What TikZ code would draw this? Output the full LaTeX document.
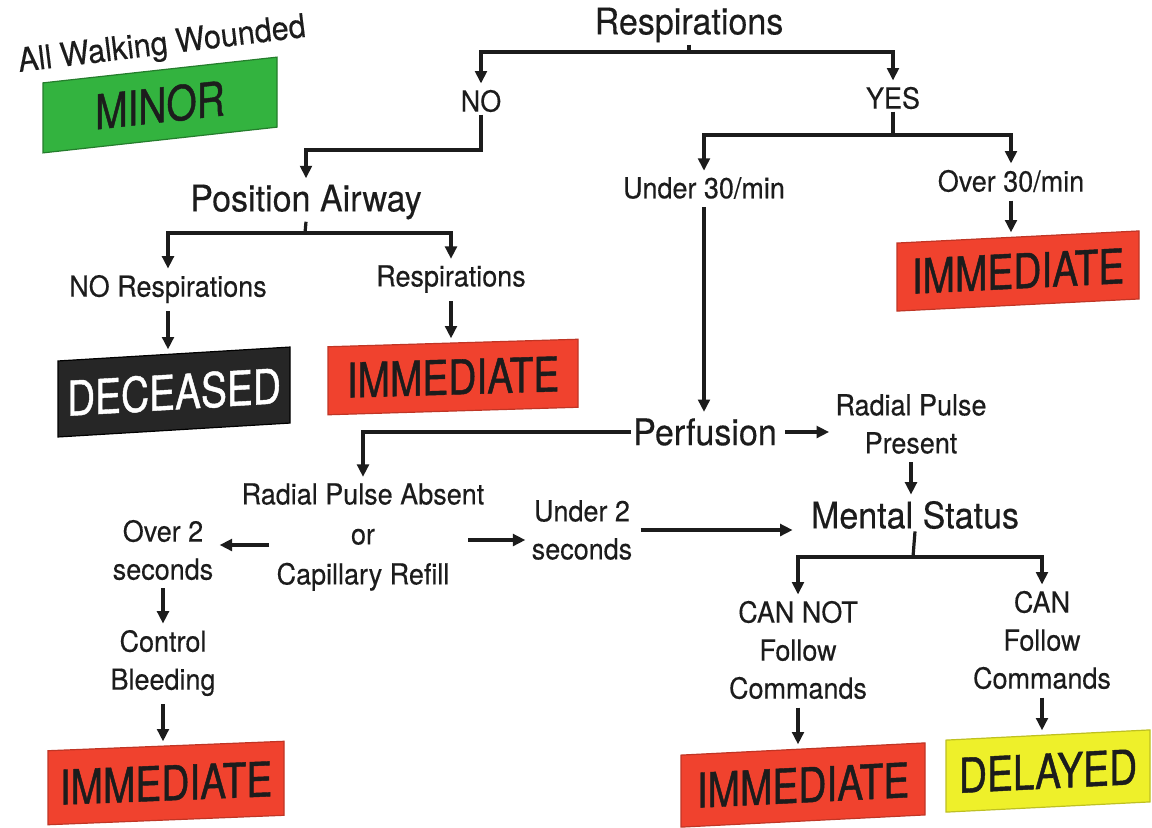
\documentclass[tikz,border=0pt]{standalone}
\usepackage{fontspec}
\setmainfont{TeX Gyre Heros}[FakeStretch=0.93,FakeBold=0.3]
\newfontfamily\boxfont{TeX Gyre Heros}[FakeStretch=0.81,FakeBold=0.9]
\usetikzlibrary{arrows.meta,calc}
\definecolor{tred}{HTML}{F0422E}
\definecolor{tgreen}{HTML}{33B33F}
\definecolor{tblack}{HTML}{262626}
\definecolor{tyellow}{HTML}{EEF02A}
\definecolor{ink}{HTML}{1C1C1C}
\begin{document}
\begin{tikzpicture}[x=0.5pt,y=-0.5pt,
  txt/.style={inner sep=1pt, align=center, text=ink, font=\fontsize{14.5}{19}\selectfont},
  big/.style={inner sep=1pt, align=center, text=ink, font=\fontsize{18.3}{22}\selectfont},
  tag/.style={inner sep=0pt, font=\boxfont\fontsize{24}{24}\selectfont, text=ink, line width=0.6pt},
  ln/.style={draw=ink, line width=1.6pt},
  arr/.style={ln, -{Triangle[width=5.8pt,length=6.2pt]}, shorten >=2pt},
  narr/.style={arr, shorten <=3pt}]
\useasboundingbox (0,0) rectangle (1152,827);
\fill[white] (0,0) rectangle (1152,827);

% text nodes
\node[big] (resp) at (689,25) {Respirations};
\node[txt] (no) at (481,101) {NO};
\node[txt] (yes) at (893,98) {YES};
\node[big] (pos) at (306,202) {Position Airway};
\node[txt] (noresp) at (168,289) {NO Respirations};
\node[txt] (resp2) at (451,279) {Respirations};
\node[txt] (u30) at (704,188) {Under 30/min};
\node[txt] (o30) at (1011,181) {Over 30/min};
\node[big] (perf) at (705,432) {Perfusion};
\node[txt] (rpp) at (911,424) {Radial Pulse\\Present};
\node[big] (ms) at (915,515) {Mental Status};
\node[txt, font=\fontsize{14.5}{20}\selectfont] (rpa) at (363,537) {Radial Pulse Absent\\or\\Capillary Refill};
\node[txt] (o2) at (163,550) {Over 2\\seconds};
\node[txt] (cb) at (163,663) {Control\\Bleeding};
\node[txt] (u2) at (582,530) {Under 2\\seconds};
\node[txt] (cannot) at (798,650) {CAN NOT\\Follow\\Commands};
\node[txt] (can) at (1042,640) {CAN\\Follow\\Commands};
\node[big, font=\fontsize{16.5}{20}\selectfont, rotate=7] (awk) at (162,46) {All Walking Wounded};

% category tags
\node[tag, fill=tgreen, draw=tgreen!70!black, minimum width=117pt, minimum height=35pt, yslant=0.11] (minor) at (160,105) {MINOR};
\node[tag, fill=tblack, draw=black, text=white, minimum width=116pt, minimum height=38pt, yslant=0.06] (dec) at (174,392) {DECEASED};
\node[tag, fill=tred, draw=tred!80!black, minimum width=125pt, minimum height=34pt, yslant=0.03] (imm1) at (453,377) {IMMEDIATE};
\node[tag, fill=tred, draw=tred!80!black, minimum width=121pt, minimum height=34pt, yslant=0.05] (imm2) at (1018,271) {IMMEDIATE};
\node[tag, fill=tred, draw=tred!80!black, minimum width=118pt, minimum height=37pt, yslant=0.04] (imm3) at (166,783) {IMMEDIATE};
\node[tag, fill=tred, draw=tred!80!black, minimum width=122pt, minimum height=36pt, yslant=0.05] (imm4) at (803,785) {IMMEDIATE};
\node[tag, fill=tyellow, draw=tyellow!80!black, minimum width=102pt, minimum height=36pt, yslant=0.05] (del) at (1048,771) {DELAYED};

% junctions
\coordinate (j1) at (689,52);
\coordinate (j2) at (481,150);
\coordinate (j3) at (305,233);
\coordinate (j4) at (893,135);
\coordinate (j6) at (913,557);

% connectors
\draw[ln] (resp.south) -- (j1);
\draw[arr] (j1) -| (no.north);
\draw[arr] (j1) -| (yes.north);
\draw[arr] (no.south) -- (j2) -| (pos.north);
\draw[ln] (pos.south) -- (j3);
\draw[arr] (j3) -| (noresp.north);
\draw[arr] (j3) -| (resp2.north);
\draw[narr] (noresp.south) -- (noresp.south |- dec.north);
\draw[narr] (resp2.south) -- (resp2.south |- imm1.north);
\draw[arr] (yes.south) -- (j4) -| (u30.north);
\draw[arr] (j4) -| (o30.north);
\draw[narr] (o30.south) -- (o30.south |- imm2.north);
\draw[narr] (u30.south) -- (u30.south |- perf.north);
\draw[narr] (perf.east) -- (perf.east -| rpp.west);
\draw[narr] (rpp.south) -- (rpp.south |- ms.north);
\draw[arr] (perf.west) -| (rpa.north);
\draw[narr] ($(rpa.center)+(-88,8)$) coordinate (ta) -- (ta -| o2.east);
\draw[narr] ($(rpa.center)+(99,3)$) coordinate (tb) -- (tb -| u2.west);
\draw[narr, shorten >=8pt] (u2.east) -- (u2.east -| ms.west);
\draw[narr] (o2.south) -- (o2.south |- cb.north);
\draw[narr] (cb.south) -- (cb.south |- imm3.north);
\draw[ln] (ms.south) -- (j6);
\draw[arr] (j6) -| (cannot.north);
\draw[arr] (j6) -| (can.north);
\draw[narr] (cannot.south) -- (cannot.south |- imm4.north);
\draw[narr] (can.south) -- (can.south |- del.north);
\end{tikzpicture}
\end{document}
